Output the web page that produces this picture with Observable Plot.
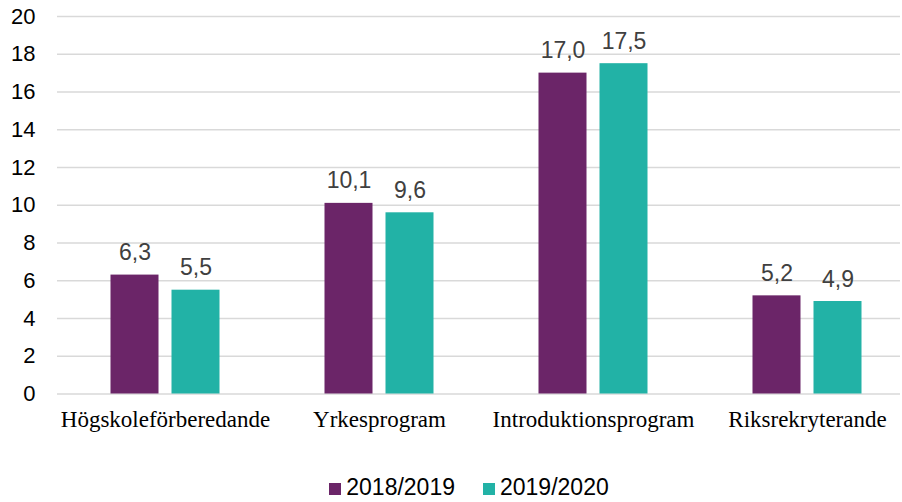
<!DOCTYPE html>
<html><head><meta charset="utf-8">
<script src="https://cdn.jsdelivr.net/npm/d3@7"></script>
<script src="https://cdn.jsdelivr.net/npm/@observablehq/plot@0.6"></script>
<style>
html,body{margin:0;padding:0;background:#fff;}
#chart{width:902px;height:502px;position:relative;}
#legend{position:absolute;left:0;top:473px;width:902px;display:flex;justify-content:center;padding-left:36px;box-sizing:border-box;font-family:"Liberation Sans",Arial,sans-serif;font-size:23px;line-height:28px;color:#000;}
.item{display:flex;align-items:baseline;margin:0 14px;}
.sw{width:12px;height:12px;margin-right:5px;}
</style></head>
<body><div id="chart"></div>
<script>
const categories = ["Högskoleförberedande","Yrkesprogram","Introduktionsprogram","Riksrekryterande"];
const series = ["2018/2019","2019/2020"];
const values2018 = [6.3, 10.1, 17.0, 5.2];
const values2019 = [5.5, 9.6, 17.5, 4.9];
const yTicks = [0,2,4,6,8,10,12,14,16,18,20];
const colors = ["#6B2568","#22B2A6"];

const d1 = categories.map((c,i)=>({cat:c, v:values2018[i]}));
const d2 = categories.map((c,i)=>({cat:c, v:values2019[i]}));
const fmt = v => v.toFixed(1).replace(".", ",");

const plot = Plot.plot({
  width: 902, height: 450,
  marginLeft: 57, marginRight: 2, marginTop: 16, marginBottom: 56.5,
  style: {fontFamily: "'Liberation Sans', Arial, sans-serif", fontSize: "22px", color: "#000", background: "#fff"},
  x: {domain: categories, range: [57.5, 913.5], padding: 0, axis: null},
  y: {domain: [0, 20], ticks: yTicks, tickSize: 0, tickPadding: 22, tickFormat: d => String(d), label: null},
  marks: [
    Plot.gridY(yTicks, {stroke: "#d9d9d9", strokeOpacity: 1, strokeWidth: 1.3}),
    Plot.barY(d1, {x: "cat", y: "v", fill: colors[0], insetLeft: 52.5, insetRight: 113.5}),
    Plot.barY(d2, {x: "cat", y: "v", fill: colors[1], insetLeft: 113.5, insetRight: 52.5}),
    Plot.text(d1, {x: "cat", y: "v", text: d => fmt(d.v), dx: -30.5, dy: -15, lineAnchor: "bottom", fill: "#404040", fontSize: 23}),
    Plot.text(d2, {x: "cat", y: "v", text: d => fmt(d.v), dx: 30.5, dy: -15, lineAnchor: "bottom", fill: "#404040", fontSize: 23}),
    Plot.axisX({domain: categories, tickSize: 0, tickPadding: 17, fontFamily: "'Liberation Serif', 'Times New Roman', serif", fontSize: 23, fontWeight: "normal", fill: "#000", label: null})
  ]
});
document.getElementById("chart").appendChild(plot);

const lg = document.createElement("div");
lg.id = "legend";
series.forEach((s,i)=>{
  const it = document.createElement("div"); it.className="item";
  const sw = document.createElement("div"); sw.className="sw"; sw.style.background = colors[i];
  const t = document.createElement("span"); t.textContent = s;
  it.appendChild(sw); it.appendChild(t); lg.appendChild(it);
});
document.getElementById("chart").appendChild(lg);
</script></body></html>
